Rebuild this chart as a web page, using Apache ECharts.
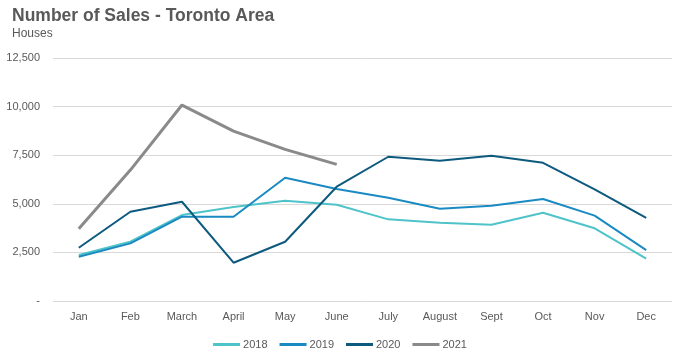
<!DOCTYPE html>
<html><head><meta charset="utf-8">
<script src="https://cdn.jsdelivr.net/npm/echarts@6/dist/echarts.min.js"></script>
<style>html,body{margin:0;padding:0;background:#fff}#c{width:680px;height:360px}</style>
</head><body><div id="c"></div>
<script>
const months = ['Jan','Feb','March','April','May','June','July','August','Sept','Oct','Nov','Dec'];
const s2018 = [2365,3050,4420,4830,5160,4950,4200,4030,3925,4540,3740,2175];
const s2019 = [2280,2965,4335,4335,6340,5760,5310,4750,4900,5245,4390,2620];
const s2020 = [2740,4590,5105,1970,3050,5880,7420,7215,7470,7110,5740,4270];
const s2021 = [3720,6735,10080,8740,7800,7030,null,null,null,null,null,null];
const seriesNames = ['2018','2019','2020','2021'];
const colors = ['#4EC3C9','#1A8AC2','#0D5A7E','#8A8A8A'];
const widths = [2,2,2,3];
const font = 'Liberation Sans, Arial, sans-serif';
const chart = echarts.init(document.getElementById('c'));
chart.setOption({
  animation:false,
  title:{text:'Number of Sales - Toronto Area',subtext:'Houses',left:12,top:7,itemGap:3,padding:0,
    textStyle:{fontFamily:font,fontSize:17.5,fontWeight:'bold',color:'#595959'},
    subtextStyle:{fontFamily:font,fontSize:12,color:'#595959'}},
  grid:{left:53,right:8,top:58,bottom:59},
  legend:{bottom:10,left:'center',padding:0,itemWidth:27,itemHeight:3,itemGap:12,icon:'rect',
    textStyle:{fontFamily:font,fontSize:11,color:'#595959',padding:[0,0,0,-2]},data:seriesNames},
  xAxis:{type:'category',data:months,boundaryGap:true,
    axisLine:{show:false},axisTick:{show:false},
    axisLabel:{fontFamily:font,fontSize:11,color:'#595959',margin:10}},
  yAxis:{type:'value',min:0,max:12500,interval:2500,
    axisLabel:{fontFamily:font,fontSize:11,color:'#595959',margin:13,
      formatter:v=>v===0?'-':v.toLocaleString('en-US')},
    splitLine:{lineStyle:{color:'#D9D9D9',width:1}}},
  series:[s2018,s2019,s2020,s2021].map((d,i)=>({
    name:seriesNames[i],type:'line',data:d,symbol:'none',
    itemStyle:{color:colors[i]},lineStyle:{color:colors[i],width:widths[i]},z:i
  }))
});
</script></body></html>
